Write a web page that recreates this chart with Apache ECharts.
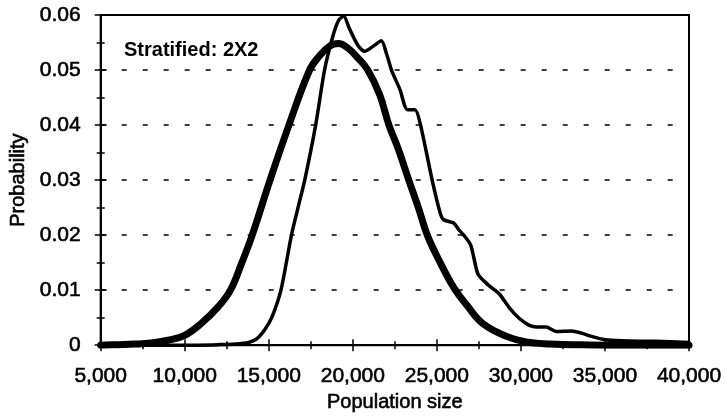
<!DOCTYPE html>
<html>
<head>
<meta charset="utf-8">
<script src="https://cdn.jsdelivr.net/npm/echarts@6/dist/echarts.min.js"></script>
<style>
  html, body { margin: 0; padding: 0; background: #fff; }
  #chart { width: 725px; height: 418px; }
</style>
</head>
<body>
<div id="chart"></div>
<script>
// Smooth (fitted) distribution of population size
const fittedPop = [5000, 6000, 7000, 8000, 9000, 10000, 11000, 12000, 12720, 13400, 14015, 15075, 16200, 17430, 18000, 18600, 19150, 19700, 20300, 20890, 21600, 22150, 22700, 23330, 23900, 24430, 25200, 26000, 26800, 27750, 29150, 30300, 31700, 33000, 35000, 40000];
const fittedProb = [0, 0.0001, 0.0002, 0.0004, 0.0009, 0.0018, 0.0040, 0.0070, 0.0100, 0.0150, 0.0200, 0.0300, 0.0400, 0.0500, 0.0525, 0.0543, 0.0548, 0.0540, 0.0522, 0.0500, 0.0455, 0.0400, 0.0357, 0.0300, 0.0250, 0.0200, 0.0150, 0.0105, 0.0072, 0.0039, 0.0016, 0.0006, 0.0002, 0.0001, 0, 0];

// Stratified 2X2 sampling distribution
const stratPop = [5000, 10000, 12000, 13000, 13800, 14300, 14800, 15200, 15725, 16350, 16780, 17140, 17790, 18320, 18800, 19150, 19450, 19800, 20300, 20700, 21200, 21700, 22000, 22300, 22800, 23250, 23700, 24030, 24720, 25200, 25400, 26000, 26300, 26600, 27000, 27200, 27450, 28000, 28450, 28750, 29340, 29930, 30500, 30930, 31500, 32100, 33000, 33600, 34200, 35000, 36000, 38000, 40000];
const stratProb = [0, 0, 0.0001, 0.0002, 0.0005, 0.0012, 0.0030, 0.0052, 0.0100, 0.0200, 0.0255, 0.0300, 0.0400, 0.0500, 0.0560, 0.0590, 0.0598, 0.0575, 0.0545, 0.0534, 0.0543, 0.0553, 0.0530, 0.0500, 0.0465, 0.0428, 0.0428, 0.0400, 0.0300, 0.0240, 0.0228, 0.0222, 0.0210, 0.0200, 0.0183, 0.0159, 0.0129, 0.0111, 0.0100, 0.0092, 0.0067, 0.0048, 0.0036, 0.0033, 0.0033, 0.0025, 0.0026, 0.0022, 0.0016, 0.0010, 0.0008, 0.0007, 0.0005];

const xTicks = { min: 5000, max: 40000, step: 5000 };
const yTicks = { min: 0, max: 0.06, step: 0.01 };

const zip = (xs, ys) => xs.map((x, i) => [x, ys[i]]);
const FONT = '"Liberation Sans", Arial, sans-serif';
// slightly heavier glyphs for the printed-style labels
const ink = { color: '#000', textBorderColor: '#000', textBorderWidth: 0.6 };

const chart = echarts.init(document.getElementById('chart'), null, { renderer: 'canvas' });

const baseX = {
  type: 'value', min: xTicks.min, max: xTicks.max, interval: xTicks.step,
  position: 'bottom'
};
const baseY = {
  type: 'value', min: yTicks.min, max: yTicks.max, interval: yTicks.step,
  position: 'left'
};
const tickStyle = { color: '#000', width: 1.5 };

chart.setOption({
  animation: false,
  backgroundColor: '#fff',
  grid: {
    left: 95, right: 36, top: 15, bottom: 71,
    show: true, borderColor: '#000', borderWidth: 2, backgroundColor: 'transparent'
  },
  xAxis: [
    Object.assign({}, baseX, {
      name: 'Population size', nameLocation: 'middle', nameGap: 45,
      nameTextStyle: Object.assign({ fontFamily: FONT, fontSize: 20 }, ink),
      axisLine: { onZero: false, lineStyle: { color: '#000', width: 2 } },
      axisTick: { show: true, length: 6, lineStyle: tickStyle },
      minorTick: { show: true, splitNumber: 2, length: 4, lineStyle: tickStyle },
      axisLabel: Object.assign({
        margin: 21, fontFamily: FONT, fontSize: 21,
        formatter: v => v.toLocaleString('en-US')
      }, ink),
      splitLine: { show: false }
    }),
    // inner half of the crossing ticks
    Object.assign({}, baseX, {
      axisLine: { show: false, onZero: false },
      axisTick: { show: true, inside: true, length: 6, lineStyle: tickStyle },
      minorTick: { show: true, splitNumber: 2, length: 4, lineStyle: tickStyle },
      axisLabel: { show: false },
      splitLine: { show: false }
    })
  ],
  yAxis: [
    Object.assign({}, baseY, {
      name: 'Probability', nameLocation: 'middle', nameGap: 68,
      nameTextStyle: Object.assign({ fontFamily: FONT, fontSize: 20 }, ink),
      axisLine: { show: true, onZero: false, lineStyle: { color: '#000', width: 2 } },
      axisTick: { show: true, length: 6, lineStyle: tickStyle },
      minorTick: { show: true, splitNumber: 2, length: 4, lineStyle: tickStyle },
      axisLabel: Object.assign({ margin: 20, fontFamily: FONT, fontSize: 21 }, ink),
      splitLine: {
        show: true,
        lineStyle: { color: '#000', width: 1.5, type: [5, 16] }
      }
    }),
    Object.assign({}, baseY, {
      axisLine: { show: false, onZero: false },
      axisTick: { show: true, inside: true, length: 6, lineStyle: tickStyle },
      minorTick: { show: true, splitNumber: 2, length: 4, lineStyle: tickStyle },
      axisLabel: { show: false },
      splitLine: { show: false }
    })
  ],
  graphic: [
    {
      type: 'text', left: 124, top: 40,
      style: { text: 'Stratified: 2X2', font: 'bold 20px ' + FONT, fill: '#000' }
    }
  ],
  series: [
    {
      name: 'Fitted', type: 'line', xAxisIndex: 0, yAxisIndex: 0,
      data: zip(fittedPop, fittedProb),
      showSymbol: false, smooth: 0.4,
      lineStyle: { color: '#000', width: 7, join: 'round', cap: 'round' }, z: 3
    },
    {
      name: 'Stratified', type: 'line', xAxisIndex: 0, yAxisIndex: 0,
      data: zip(stratPop, stratProb),
      showSymbol: false, smooth: 0.25,
      lineStyle: { color: '#000', width: 3.5, join: 'round', cap: 'round' }, z: 4
    }
  ]
});
</script>
</body>
</html>
